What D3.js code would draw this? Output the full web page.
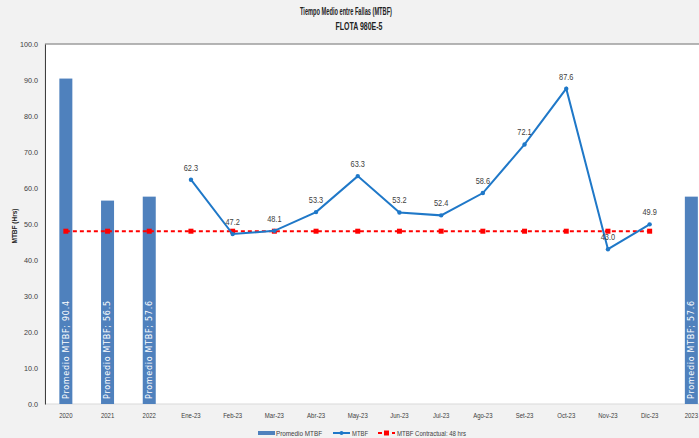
<!DOCTYPE html>
<html>
<head>
<meta charset="utf-8"/>
<script src="https://d3js.org/d3.v7.min.js"></script>
<style>
    body { margin: 0; background: #f2f2f2; }
    text { font-family: "Liberation Sans", "Noto Sans", sans-serif; }
</style>
</head>
<body>
<div id="chart"></div>
<script>
// categories and values
var categories = ["2020","2021","2022","Ene-23","Feb-23","Mar-23","Abr-23","May-23","Jun-23","Jul-23","Ago-23","Set-23","Oct-23","Nov-23","Dic-23","2023"];
var barCats = ["2020","2021","2022","2023"];
var barValues = [90.4, 56.5, 57.6, 57.6];
var monthCats = ["Ene-23","Feb-23","Mar-23","Abr-23","May-23","Jun-23","Jul-23","Ago-23","Set-23","Oct-23","Nov-23","Dic-23"];
var mtbfValues = [62.3, 47.2, 48.1, 53.3, 63.3, 53.2, 52.4, 58.6, 72.1, 87.6, 43.0, 49.9];
var contractCats = categories.slice(0, 15);
var contractValue = 48;
var yTicks = [0,10,20,30,40,50,60,70,80,90,100];

var width = 699, height = 438;
var plotLeft = 45, plotTop = 44, plotBottom = 404;
var step = 41.7;

// the original text looks horizontally condensed
function squeeze(sel, factor){
    sel.each(function(){
        var w = this.getComputedTextLength();
        d3.select(this).attr("textLength", w * factor).attr("lengthAdjust", "spacingAndGlyphs");
    });
}

var svg = d3.select("#chart").append("svg")
    .attr("width", width)
    .attr("height", height);

svg.append("rect").attr("width", width).attr("height", height).attr("fill", "#f2f2f2");

var x = d3.scaleBand()
    .domain(categories)
    .range([plotLeft, plotLeft + step * categories.length])
    .padding(0);
var y = d3.scaleLinear().domain([0, 100]).range([plotBottom, plotTop]);
var cx = function(c){ return x(c) + x.bandwidth() / 2; };

// plot area
svg.append("rect")
    .attr("x", plotLeft).attr("y", plotTop)
    .attr("width", step * categories.length).attr("height", plotBottom - plotTop)
    .attr("fill", "#ffffff")
    .attr("stroke", "#d9d9d9");
svg.append("line")
    .attr("x1", plotLeft).attr("x2", width).attr("y1", plotTop).attr("y2", plotTop)
    .attr("stroke", "#7f7f7f").attr("stroke-width", 1);

// titles
svg.append("text").attr("x", 346).attr("y", 15).attr("text-anchor", "middle")
    .attr("font-size", 10.5).attr("font-weight", "bold").attr("fill", "#222")
    .attr("textLength", 92).attr("lengthAdjust", "spacingAndGlyphs")
    .text("Tiempo Medio entre Fallas (MTBF)");
svg.append("text").attr("x", 359).attr("y", 30).attr("text-anchor", "middle")
    .attr("font-size", 10.5).attr("font-weight", "bold").attr("fill", "#222")
    .attr("textLength", 47).attr("lengthAdjust", "spacingAndGlyphs")
    .text("FLOTA 980E-5");

// y axis
var yAxis = d3.axisLeft(y).tickValues(yTicks).tickSize(0).tickPadding(7)
    .tickFormat(d3.format(".1f"));
var ya = svg.append("g").attr("transform", "translate(" + plotLeft + ",0)").call(yAxis);
ya.select(".domain").attr("stroke", "#404040");
ya.selectAll("text").attr("font-size", 8).attr("fill", "#404040")
    .style("font-family", "'Liberation Sans', sans-serif");
squeeze(ya.selectAll("text"), 0.9);

svg.append("text")
    .attr("transform", "translate(17,226) rotate(-90)")
    .attr("text-anchor", "middle").attr("font-size", 6.5).attr("font-weight", "bold").attr("fill", "#222")
    .text("MTBF (Hrs)");

// x axis
var xAxis = d3.axisBottom(x).tickSize(0).tickPadding(9);
var xa = svg.append("g").attr("transform", "translate(0," + plotBottom + ")").call(xAxis);
xa.select(".domain").remove();
xa.selectAll("text").attr("font-size", 7.5).attr("fill", "#404040")
    .style("font-family", "'Liberation Sans', sans-serif");
squeeze(xa.selectAll("text"), 0.8);

// bars
var barW = 13;
svg.selectAll(".bar").data(barCats).enter().append("rect")
    .attr("class", "bar")
    .attr("x", function(d){ return cx(d) - barW / 2; })
    .attr("y", function(d, i){ return y(barValues[i]); })
    .attr("width", barW)
    .attr("height", function(d, i){ return plotBottom - y(barValues[i]); })
    .attr("fill", "#4f81bd");
svg.selectAll(".barlabel").data(barCats).enter().append("text")
    .attr("transform", function(d){ return "translate(" + (cx(d) + 2.8) + "," + (plotBottom - 5) + ") rotate(-90)"; })
    .attr("fill", "#ffffff").attr("font-size", 8)
    .style("font-family", "'DejaVu Sans', sans-serif")
    .attr("textLength", 98).attr("lengthAdjust", "spacing")
    .text(function(d, i){ return "Promedio MTBF; " + barValues[i].toFixed(1); });

// contractual line
var contractLine = d3.line().x(function(d){ return cx(d); }).y(y(contractValue));
svg.append("path").datum(contractCats)
    .attr("d", contractLine)
    .attr("fill", "none").attr("stroke", "#ff0000").attr("stroke-width", 2)
    .attr("stroke-dasharray", "4,3");
svg.selectAll(".cm").data(contractCats).enter().append("rect")
    .attr("x", function(d){ return cx(d) - 2.5; })
    .attr("y", y(contractValue) - 2.5)
    .attr("width", 5).attr("height", 5).attr("fill", "#ff0000");

// MTBF line
var line = d3.line()
    .x(function(d, i){ return cx(monthCats[i]); })
    .y(function(d){ return y(d); });
svg.append("path").datum(mtbfValues)
    .attr("d", line)
    .attr("fill", "none").attr("stroke", "#1f78c8").attr("stroke-width", 2);
svg.selectAll(".pt").data(mtbfValues).enter().append("circle")
    .attr("cx", function(d, i){ return cx(monthCats[i]); })
    .attr("cy", function(d){ return y(d); })
    .attr("r", 2.2).attr("fill", "#1f78c8");
var lbls = svg.selectAll(".lbl").data(mtbfValues).enter().append("text")
    .attr("x", function(d, i){ return cx(monthCats[i]); })
    .attr("y", function(d){ return y(d) - 9; })
    .attr("text-anchor", "middle").attr("font-size", 9).attr("fill", "#404040")
    .text(function(d){ return d.toFixed(1); });
squeeze(lbls, 0.82);

// legend
var ly = 433;
var lg = svg.append("g");
lg.append("rect").attr("x", 258).attr("y", ly - 2).attr("width", 17).attr("height", 4).attr("fill", "#4f81bd");
lg.append("text").attr("x", 276).attr("y", ly + 3).attr("font-size", 7.5).attr("fill", "#404040")
    .attr("textLength", 46).attr("lengthAdjust", "spacingAndGlyphs").text("Promedio MTBF");
lg.append("line").attr("x1", 333).attr("x2", 350).attr("y1", ly).attr("y2", ly).attr("stroke", "#1f78c8").attr("stroke-width", 2);
lg.append("circle").attr("cx", 341.5).attr("cy", ly).attr("r", 2).attr("fill", "#1f78c8");
lg.append("text").attr("x", 352).attr("y", ly + 3).attr("font-size", 7.5).attr("fill", "#404040")
    .attr("textLength", 16).attr("lengthAdjust", "spacingAndGlyphs").text("MTBF");
lg.append("line").attr("x1", 378).attr("x2", 395).attr("y1", ly).attr("y2", ly).attr("stroke", "#ff0000").attr("stroke-width", 2).attr("stroke-dasharray", "4,3");
lg.append("rect").attr("x", 384).attr("y", ly - 2.5).attr("width", 5).attr("height", 5).attr("fill", "#ff0000");
lg.append("text").attr("x", 397).attr("y", ly + 3).attr("font-size", 7.5).attr("fill", "#404040")
    .attr("textLength", 69).attr("lengthAdjust", "spacingAndGlyphs").text("MTBF Contractual: 48 hrs");
</script>
</body>
</html>
